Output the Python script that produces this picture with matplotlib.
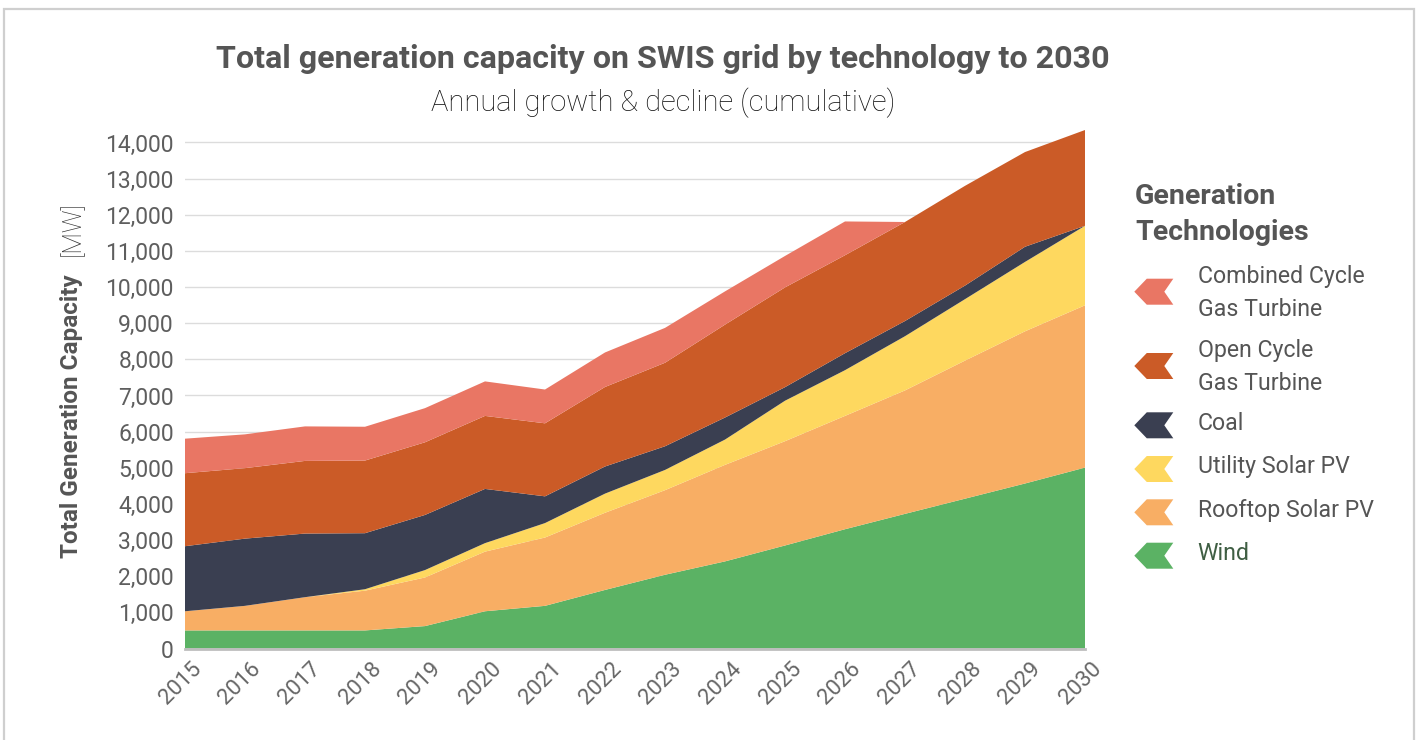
import matplotlib
matplotlib.use("Agg")
import matplotlib.pyplot as plt
from matplotlib.patches import Polygon, Rectangle
from matplotlib.ticker import FuncFormatter
import matplotlib.transforms as mtransforms

# ---------------- data ----------------
years = list(range(2015, 2031))
wind     = [500, 500, 500, 500, 620, 1030, 1180, 1620, 2040, 2410, 2850, 3300, 3725, 4145, 4565, 5005]
rooftop  = [530, 680, 920, 1100, 1345, 1650, 1890, 2135, 2340, 2670, 2885, 3135, 3415, 3820, 4210, 4490]
utility  = [0, 0, 0, 40, 205, 235, 400, 530, 560, 700, 1120, 1265, 1500, 1700, 1920, 2200]
coal     = [1800, 1860, 1760, 1550, 1525, 1500, 740, 750, 655, 610, 375, 470, 420, 375, 420, 0]
ocgt     = [2020, 1950, 2010, 2010, 2010, 2020, 2020, 2200, 2310, 2570, 2760, 2710, 2740, 2760, 2620, 2650]
ccgt     = [955, 935, 955, 935, 945, 955, 935, 955, 965, 920, 870, 935, 0, 0, 0, 0]

series_names = ["Wind", "Rooftop Solar PV", "Utility Solar PV", "Coal",
                "Open Cycle\nGas Turbine", "Combined Cycle\nGas Turbine"]
colors = ["#5BB264", "#F8AE64", "#FED85F", "#3A3F51", "#CB5B27", "#E97664"]
yticks = list(range(0, 14001, 1000))

title = "Total generation capacity on SWIS grid by technology to 2030"
subtitle = "Annual growth & decline (cumulative)"
legend_title = "Generation\nTechnologies"

# ---------------- figure ----------------
W, H = 1419, 740
fig = plt.figure(figsize=(W / 100, H / 100), dpi=100)
plt.rcParams['font.family'] = ['Roboto', 'DejaVu Sans']
txt = "#555555"

def fx(x):
    return x / W

def fy(y):
    return 1 - y / H

# outer frame
fig.add_artist(Rectangle((fx(3.5), fy(760)), fx(1414 - 3.5), (760 - 9) / H,
                         transform=fig.transFigure, fill=False,
                         edgecolor="#cfcfcf", linewidth=1.6, clip_on=False))

ax = fig.add_axes([fx(185), fy(648.5), fx(1085 - 185), (648.5 - 124.4) / H])
ax.stackplot(years, wind, rooftop, utility, coal, ocgt, ccgt,
             colors=colors, linewidth=0)
ax.set_xlim(2015, 2030)
ax.set_ylim(0, 14500)
ax.set_yticks(yticks)
ax.yaxis.set_major_formatter(FuncFormatter(lambda v, p: f"{int(v):,}"))
ax.set_xticks(years)
ax.grid(axis="y", color="#dcdcdc", linewidth=1)
ax.set_axisbelow(True)
for s in ["top", "right", "left"]:
    ax.spines[s].set_visible(False)
ax.spines["bottom"].set_color("#bdbdbd")
ax.spines["bottom"].set_linewidth(2)
ax.spines["bottom"].set_zorder(5)
ax.tick_params(axis="both", length=0, colors=txt)
ax.tick_params(axis="y", pad=8)
for lab in ax.get_yticklabels():
    lab.set_fontsize(16.5)
    lab.set_fontweight("normal")
    lab.set_color("#5e5e5e")
offset = mtransforms.ScaledTranslation(13 / 100, -12 / 100, fig.dpi_scale_trans)
for lab in ax.get_xticklabels():
    lab.set_fontsize(16)
    lab.set_fontweight("normal")
    lab.set_color("#666666")
    lab.set_rotation(45)
    lab.set_ha("right")
    lab.set_va("center")
    lab.set_rotation_mode("anchor")
    lab.set_transform(lab.get_transform() + offset)

# titles
fig.text(fx(663), fy(59), title, ha="center", va="center", fontsize=23.2,
         fontweight="bold", color=txt)
fig.text(fx(663), fy(103), subtitle, ha="center", va="center", fontsize=21,
         fontweight="light", color="#111111")

# y-axis label
fig.text(fx(72), fy(558), "Total Generation Capacity", rotation=90, ha="center",
         va="bottom", fontsize=17.5, fontweight="bold", color=txt)
fig.text(fx(72), fy(256), "[MW]", rotation=90, ha="center", va="bottom",
         fontsize=18, fontweight="light", color="#333333")

# legend
fig.text(fx(1135), fy(214.5), legend_title, ha="left", va="center", fontsize=20.5,
         fontweight="bold", color=txt, linespacing=1.45)
entry_y = [555.7, 512.3, 469, 425.3, 366, 291.7]
label_y = [553.3, 510, 466.7, 424, 366.7, 293]
label_colors = ["#3f5e43", txt, txt, txt, txt, txt]
cx = 1153.8
shape = [(-19.5, 0), (-7, -13), (19.5, -13), (10.5, 0), (19.5, 13), (-7, 13)]
for name, col, ey, ly, lc in zip(series_names, colors, entry_y, label_y, label_colors):
    pts = [(fx(cx + dx), fy(ey + dy)) for dx, dy in shape]
    fig.add_artist(Polygon(pts, closed=True, transform=fig.transFigure,
                           facecolor=col, edgecolor="none"))
    fig.text(fx(1197.7), fy(ly), name, ha="left", va="center", fontsize=16.7,
             color=lc, linespacing=1.55)

fig.savefig("out.png", dpi=100)
